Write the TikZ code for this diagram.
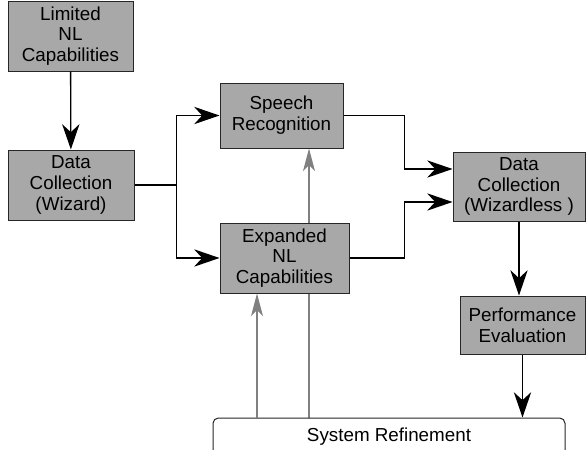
\documentclass[tikz,border=0pt]{standalone}
\usepackage{fontspec}
\setmainfont{Liberation Sans}
\usetikzlibrary{calc,backgrounds,arrows.meta}
\definecolor{stagegray}{gray}{0.66}
\tikzset{
  stage/.style={draw=black!85, fill=stagegray, line width=0.75pt, align=center,
    inner sep=0pt, font=\fontsize{14.1}{15.6}\selectfont},
  refinebox/.style={draw=black!85, fill=white, line width=0.75pt, rounded corners=4pt,
    inner sep=0pt, font=\fontsize{14.1}{15.6}\selectfont},
  flow/.style={line width=1pt, -{Stealth[length=19pt,width=13pt,inset=6pt]}},
  feedback/.style={draw=gray, line width=1pt, -{Stealth[length=17pt,width=9pt,inset=4.5pt]}}
}

\begin{document}
\begin{tikzpicture}[x=0.75pt, y=-0.75pt]
    \useasboundingbox (0,0) rectangle (586,450);

    % stages of the process
    \node [stage, minimum width=93.75pt, minimum height=52.5pt] (limited) at (70.5,36) {Limited\\NL\\Capabilities};
    \node [stage, minimum width=94.5pt, minimum height=52.5pt] (wizard) at (71,185) {Data\\Collection\\(Wizard)};
    \node [stage, minimum width=92.25pt, minimum height=48.75pt] (speech) at (281.5,115.5) {Speech\\Recognition};
    \node [stage, minimum width=96.75pt, minimum height=52.5pt] (expanded) at (284.5,258) {Expanded\\NL\\Capabilities};
    \node [stage, minimum width=99pt, minimum height=51.75pt] (wizless) at (519,186.5) {Data\\Collection\\(Wizardless )};
    \node [stage, minimum width=93.75pt, minimum height=43.5pt] (perf) at (522.5,325) {Performance\\Evaluation};
    \node [refinebox, minimum width=264pt, minimum height=28.5pt] (refine) at (389,437) {System Refinement};

    % coordinates to be reused
    \coordinate (split) at ($(wizard.east)+(42,0)$);
    \coordinate (join) at ($(speech.east)+(61,0)$);
    \coordinate (inA) at ($(wizless.west)+(0,-17.5)$);
    \coordinate (inB) at ($(wizless.west)+(0,15.5)$);
    \coordinate (upA) at ($(expanded.south)+(-27.5,0)$);
    \coordinate (upB) at ($(speech.south)+(27.5,0)$);

    % black flow
    \draw [flow] (limited) -- (wizard);
    \draw [line width=1pt] (wizard.east) -- (split);
    \draw [flow] (split) |- (speech.west);
    \draw [flow] (split) |- (expanded.west);
    \draw [flow] (speech.east) -| (join) |- (inA);
    \draw [flow] (expanded.east) -| (join |- inB) -- (inB);
    \draw [flow] (wizless.south) -- (wizless.south |- perf.north);
    \draw [flow] (perf.south) -- (perf.south |- refine.north);

    % gray feedback
    \draw [feedback] (refine.north -| upA) -- (upA);
    \begin{pgfonlayer}{background}% behind the expanded box
      \draw [feedback] (refine.north -| upB) -- (upB);
    \end{pgfonlayer}
\end{tikzpicture}
\end{document}
